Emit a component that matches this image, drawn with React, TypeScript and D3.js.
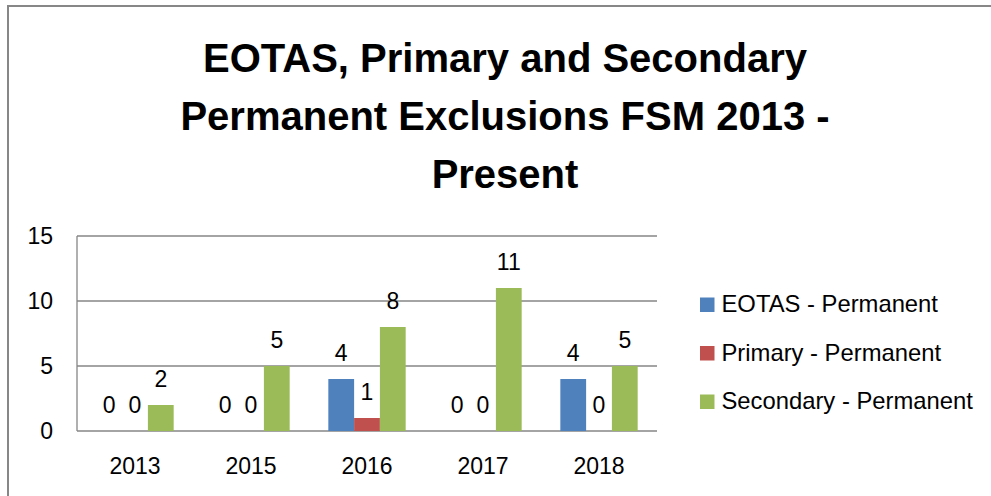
import React from 'react';
import * as d3 from 'd3';

const width = 991;
const height = 496;
const plot = {left: 77, right: 657, top: 236, bottom: 431};
const font = '"Liberation Sans", Arial, sans-serif';
const gridColor = '#868686';

const years = ['2013', '2015', '2016', '2017', '2018'];
const seriesNames = ['EOTAS - Permanent', 'Primary - Permanent', 'Secondary - Permanent'];
const seriesColors = ['#4F81BD', '#C0504D', '#9BBB59'];
const eotas = [0, 0, 4, 0, 4];
const primary = [0, 0, 1, 0, 0];
const secondary = [2, 5, 8, 11, 5];
const yTicks = [0, 5, 10, 15];
const titleLines = ['EOTAS, Primary and Secondary', 'Permanent Exclusions FSM 2013 -', 'Present'];

const seriesValues = [eotas, primary, secondary];

const App = () => {
  const xScale = d3.scaleBand().domain(years).range([plot.left, plot.right]);
  const bw = xScale.bandwidth();
  const groupW = bw / 1.5; // excel gap width 50%
  const inner = d3.scaleBand().domain(seriesNames)
    .range([(bw - groupW) / 2, (bw + groupW) / 2]);
  const yScale = d3.scaleLinear().domain([0, 15]).range([plot.bottom, plot.top]);

  return (
    <svg width={width} height={height} style={{position: 'absolute', left: 0, top: 0}}>
      <rect x={0} y={0} width={width} height={height} fill='#fff' />
      <rect x={8} y={6} width={width + 20} height={height + 20} fill='none' stroke='#878787' strokeWidth={2} />

      {/* title */}
      {titleLines.map((t, i) => (
        <text key={t} x={505} y={72 + i * 58} textAnchor='middle' fontFamily={font}
          fontWeight='bold' fontSize={40} fill='#000'>{t}</text>
      ))}

      {/* grid + axes */}
      {yTicks.map(t => (
        <g key={t}>
          <line x1={plot.left} x2={plot.right} y1={yScale(t)} y2={yScale(t)} stroke={gridColor} strokeWidth={1.3} />
          <text x={53} y={yScale(t)} dy='0.36em' textAnchor='end' fontFamily={font} fontSize={23} fill='#000'>{t}</text>
        </g>
      ))}
      <line x1={plot.left} x2={plot.left} y1={plot.top} y2={plot.bottom} stroke={gridColor} strokeWidth={1.3} />

      {/* bars */}
      {seriesValues.map((vals, si) => (
        <g key={seriesNames[si]}>
          {vals.map((v, i) => {
            const x = xScale(years[i]) + inner(seriesNames[si]);
            const y = yScale(v);
            return (
              <g key={years[i]}>
                <rect x={x} y={y} width={inner.bandwidth()} height={yScale(0) - y} fill={seriesColors[si]} />
                <text x={x + inner.bandwidth() / 2} y={y - 18.5} textAnchor='middle'
                  fontFamily={font} fontSize={23} fill='#000'>{v}</text>
              </g>
            );
          })}
        </g>
      ))}

      {/* x labels */}
      {years.map(y => (
        <text key={y} x={xScale(y) + bw / 2} y={474} textAnchor='middle' fontFamily={font} fontSize={23} fill='#000'>{y}</text>
      ))}

      {/* legend */}
      {seriesNames.map((s, i) => (
        <g key={s} transform={`translate(700, ${312 + i * 48.5})`}>
          <rect x={0} y={-14.5} width={14.5} height={14.5} fill={seriesColors[i]} />
          <text x={21.5} y={0} fontFamily={font} fontSize={23.8} fill='#000'>{s}</text>
        </g>
      ))}
    </svg>
  );
};

export default App;
